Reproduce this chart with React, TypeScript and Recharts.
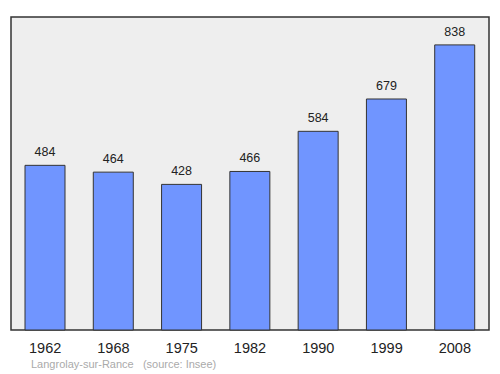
import React from 'react';
import { BarChart, Bar, XAxis, YAxis, ReferenceArea, LabelList } from 'recharts';

const years = ['1962', '1968', '1975', '1982', '1990', '1999', '2008'];
const population = [484, 464, 428, 466, 584, 679, 838];

const data = years.map((year, i) => ({ year, population: population[i] }));

const font = '"Liberation Sans", Arial, sans-serif';

const App: React.FC = () => {
  return (
    <div style={{ position: 'absolute', left: 0, top: 0, width: 500, height: 374, background: '#fff', fontFamily: font }}>
      <BarChart
        width={500}
        height={374}
        data={data}
        margin={{ top: 17, right: 5, left: 5, bottom: 14 }}
      >
        <YAxis hide domain={[0, 920]} />
        <XAxis
          dataKey="year"
          height={30}
          axisLine={false}
          tickLine={false}
          padding={{ left: 6, right: 6 }}
          tick={{ fontSize: 14.5, fill: '#222', fontFamily: font }}
          dy={5}
        />
        <ReferenceArea y1={0} y2={920} fill="#eeeeee" fillOpacity={1} stroke="#333" strokeWidth={1.5} />
        <Bar dataKey="population" fill="#7095ff" stroke="#333" strokeWidth={1} barSize={40} isAnimationActive={false}>
          <LabelList dataKey="population" position="top" offset={9} style={{ fontSize: 12.5, fill: '#222', fontFamily: font }} />
        </Bar>
      </BarChart>
      <div style={{ position: 'absolute', left: 31, top: 358, fontSize: 11, color: '#aaa', whiteSpace: 'pre' }}>
        {'Langrolay-sur-Rance   (source: Insee)'}
      </div>
    </div>
  );
};

export default App;
